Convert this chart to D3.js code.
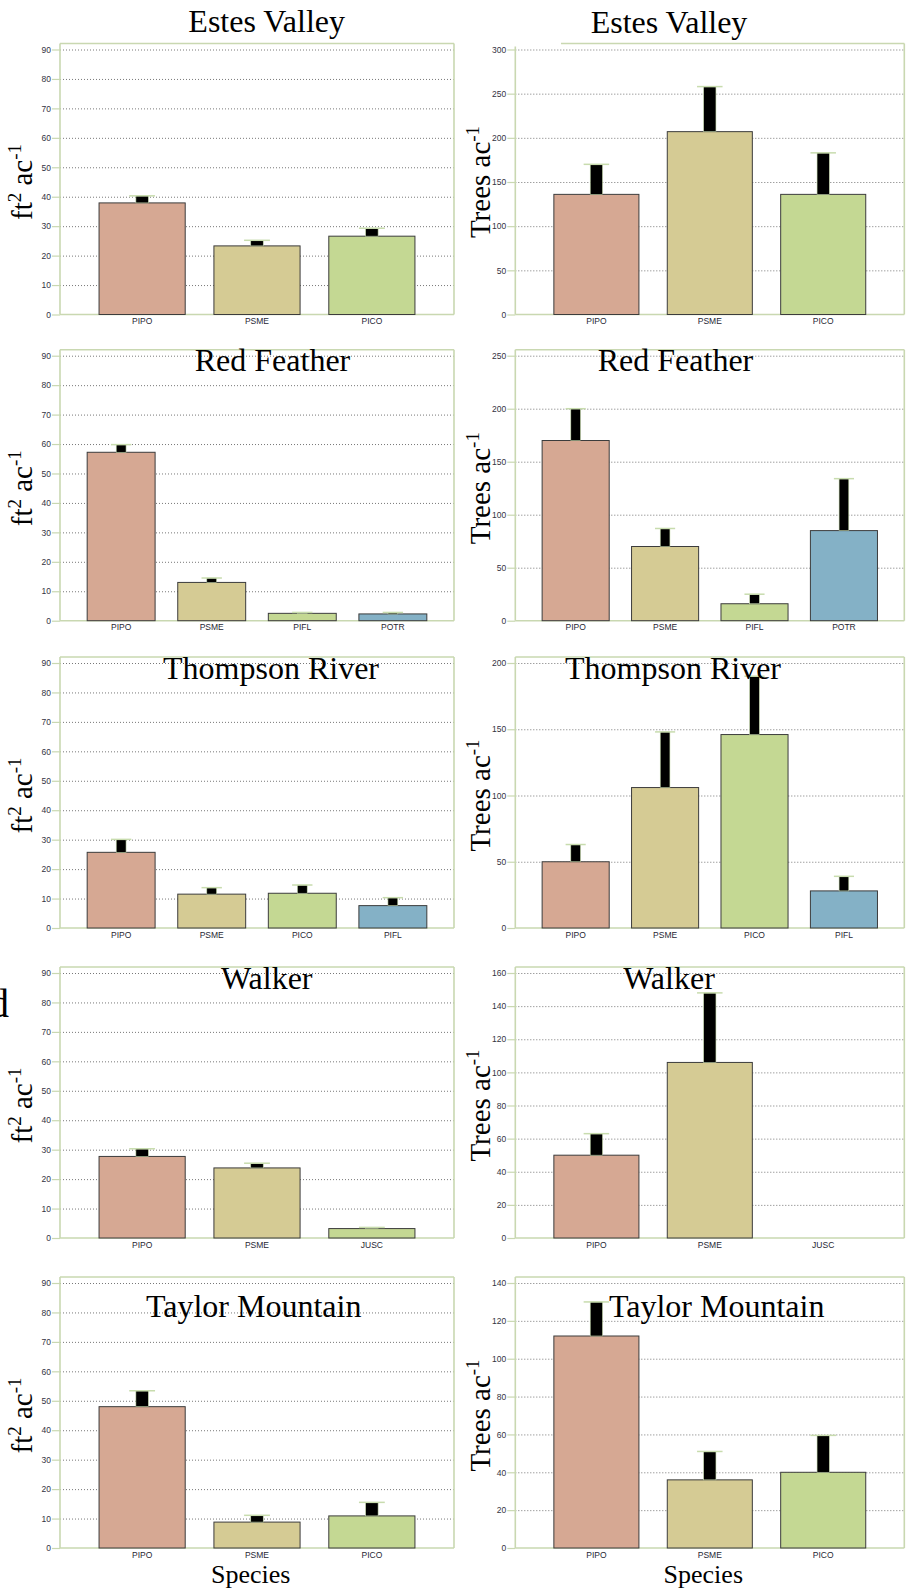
<!DOCTYPE html>
<html>
<head>
<meta charset="utf-8">
<script src="https://cdn.jsdelivr.net/npm/d3@7"></script>
<style>
body { margin: 0; background: #fff; }
svg { display: block; }
</style>
</head>
<body>
<div id="chart"></div>
<script>
// data: means and standard errors per site
var sites = ["Estes Valley", "Red Feather", "Thompson River", "Walker", "Taylor Mountain"];
var species = [
  ["PIPO", "PSME", "PICO"],
  ["PIPO", "PSME", "PIFL", "POTR"],
  ["PIPO", "PSME", "PICO", "PIFL"],
  ["PIPO", "PSME", "JUSC"],
  ["PIPO", "PSME", "PICO"]
];
var basalArea   = [[37.9, 23.3, 26.6], [57.2, 13.0, 2.5, 2.3], [25.7, 11.5, 11.8, 7.6], [27.7, 23.8, 3.2], [48.0, 8.8, 10.9]];
var basalAreaSE = [[2.4, 1.9, 2.7], [2.6, 1.5, 0.3, 0.5], [4.4, 2.2, 2.8, 2.7], [2.6, 1.6, 0.4], [5.4, 2.3, 4.6]];
var density     = [[136, 207, 136], [170, 70, 16, 85], [50, 106, 146, 28], [50, 106, 0], [112, 36, 40]];
var densitySE   = [[34, 51, 47], [30, 17, 9, 49], [13, 42, 44, 11], [13, 42, 0], [18, 15, 19.5]];
var basalTicks   = [d3.range(0, 91, 10), d3.range(0, 91, 10), d3.range(0, 91, 10), d3.range(0, 91, 10), d3.range(0, 91, 10)];
var densityTicks = [d3.range(0, 301, 50), d3.range(0, 251, 50), d3.range(0, 201, 50), d3.range(0, 161, 20), d3.range(0, 141, 20)];

// layout
var rowTop = [49.5, 355.7, 663, 973, 1283],
    plotH = 265;
var colX = [[60, 454], [515.3, 904.3]];
var titleLeft  = [[266.7, 31.7], [272.5, 370.7], [271, 679.3], [266.7, 989], [253.7, 1316.7]];
var titleRight = [[669, 33.3], [675.5, 370.7], [673, 679.3], [669, 989], [716.7, 1316.7]];
var labelX = [31.7, 490];

var barColors = ["#d6a893", "#d5cb94", "#c4d893", "#84b1c6"];
var FRAME = "#c9d8b1";
var CAP = "#c8dcae";

var svg = d3.select("#chart").append("svg")
    .attr("width", 913)
    .attr("height", 1591);

function drawPanel(row, col, cats, vals, se, ticks, title, titlePos) {
  var x0 = colX[col][0], x1 = colX[col][1];
  var yMax = rowTop[row], y0 = rowTop[row] + plotH;
  var frameTop = yMax - 6;

  var xScale = d3.scaleBand()
    .domain(cats)
    .range([x0, x1])
    .paddingInner(0.25)
    .paddingOuter(cats.length === 3 ? 0.34 : 0.3);

  var yScale = d3.scaleLinear()
    .domain([0, d3.max(ticks)])
    .range([y0, yMax]);

  var g = svg.append("g");

  // dotted grid
  var grid = g.append("g")
    .attr("transform", "translate(" + x0 + ",0)")
    .call(d3.axisLeft(yScale)
      .tickValues(ticks.filter(function(t) { return t > 0; }))
      .tickSize(-(x1 - x0))
      .tickFormat(""));
  grid.select(".domain").remove();
  grid.selectAll("line")
    .attr("stroke", "#555")
    .attr("stroke-width", 0.8)
    .attr("stroke-dasharray", "1,2");

  // frame (the top edge of the first right panel is cut short in the original)
  var odd = (row === 0 && col === 1);
  var frame = g.append("g")
    .attr("stroke", FRAME)
    .attr("stroke-width", 1.6);
  frame.append("line").attr("x1", x0).attr("x2", x0).attr("y1", odd ? frameTop + 3 : frameTop).attr("y2", y0);
  frame.append("line").attr("x1", x1).attr("x2", x1).attr("y1", frameTop).attr("y2", y0);
  frame.append("line").attr("x1", odd ? 561 : x0).attr("x2", x1).attr("y1", frameTop).attr("y2", frameTop);
  frame.append("line").attr("x1", x0).attr("x2", x1).attr("y1", y0).attr("y2", y0);

  // y axis
  var yAxis = g.append("g")
    .attr("transform", "translate(" + x0 + ",0)")
    .call(d3.axisLeft(yScale)
      .tickValues(ticks)
      .tickSize(8)
      .tickPadding(1));
  yAxis.select(".domain").remove();
  yAxis.selectAll("line").attr("stroke", FRAME).attr("stroke-width", 1.2);
  yAxis.selectAll("text")
    .attr("fill", "#33333f")
    .style("font-family", "'Liberation Sans', Arial, sans-serif")
    .style("font-size", "8.5px");

  // x axis labels
  var xAxis = g.append("g")
    .attr("transform", "translate(0," + y0 + ")")
    .call(d3.axisBottom(xScale).tickSize(0).tickPadding(3.5));
  xAxis.select(".domain").remove();
  xAxis.selectAll("text")
    .attr("fill", "#262633")
    .style("font-family", "'Liberation Sans', Arial, sans-serif")
    .style("font-size", "8.5px");

  var data = cats.map(function(c, i) { return {cat: c, val: vals[i], se: se[i], idx: i}; })
    .filter(function(d) { return d.val > 0; });
  var bw = xScale.bandwidth();

  // bars
  g.selectAll(".bars")
    .data(data)
    .enter()
    .append("rect")
    .attr("class", "bars")
    .attr("x", function(d) { return xScale(d.cat); })
    .attr("y", function(d) { return yScale(d.val); })
    .attr("width", bw)
    .attr("height", function(d) { return y0 - yScale(d.val); })
    .attr("fill", function(d) { return barColors[d.idx]; })
    .attr("stroke", "#3c3c3c")
    .attr("stroke-width", 1);

  // error bars (upper only)
  var errW = bw * 0.145, capW = bw * 0.3;
  g.selectAll(".err")
    .data(data)
    .enter()
    .append("rect")
    .attr("class", "err")
    .attr("x", function(d) { return xScale(d.cat) + bw / 2 - errW / 2; })
    .attr("y", function(d) { return yScale(d.val + d.se); })
    .attr("width", errW)
    .attr("height", function(d) { return yScale(d.val) - yScale(d.val + d.se); })
    .attr("fill", "#000")
    .attr("stroke", CAP)
    .attr("stroke-width", 0.6);

  g.selectAll(".cap")
    .data(data)
    .enter()
    .append("line")
    .attr("class", "cap")
    .attr("x1", function(d) { return xScale(d.cat) + bw / 2 - capW / 2; })
    .attr("x2", function(d) { return xScale(d.cat) + bw / 2 + capW / 2; })
    .attr("y1", function(d) { return yScale(d.val + d.se); })
    .attr("y2", function(d) { return yScale(d.val + d.se); })
    .attr("stroke", CAP)
    .attr("stroke-width", 1.5);

  // title
  svg.append("text")
    .attr("x", titlePos[0])
    .attr("y", titlePos[1])
    .attr("text-anchor", "middle")
    .style("font-family", "'Liberation Serif', 'Times New Roman', serif")
    .style("font-size", "32px")
    .attr("fill", "#000")
    .text(title);

  // y label
  var lab = svg.append("text")
    .attr("transform", "translate(" + labelX[col] + "," + (yMax + y0) / 2 + ") rotate(-90)")
    .attr("text-anchor", "middle")
    .style("font-family", "'Liberation Serif', 'Times New Roman', serif")
    .style("font-size", "29px")
    .attr("fill", "#000");
  if (col === 0) {
    lab.append("tspan").text("ft");
    lab.append("tspan").attr("dy", -11).style("font-size", "19px").text("2");
    lab.append("tspan").attr("dy", 11).text(" ac");
    lab.append("tspan").attr("dy", -11).style("font-size", "19px").text("-1");
  } else {
    lab.append("tspan").text("Trees ac");
    lab.append("tspan").attr("dy", -11).style("font-size", "19px").text("-1");
  }
}

sites.forEach(function(site, i) {
  drawPanel(i, 0, species[i], basalArea[i], basalAreaSE[i], basalTicks[i], site, titleLeft[i]);
  drawPanel(i, 1, species[i], density[i], densitySE[i], densityTicks[i], site, titleRight[i]);
});

// x titles under bottom row
[[250.7, 1583], [703.3, 1583]].forEach(function(p) {
  svg.append("text")
    .attr("x", p[0])
    .attr("y", p[1])
    .attr("text-anchor", "middle")
    .style("font-family", "'Liberation Serif', 'Times New Roman', serif")
    .style("font-size", "26px")
    .text("Species");
});

// letter clipped at the left page edge, as in the source figure
svg.append("text")
  .attr("x", 9)
  .attr("y", 1017)
  .attr("text-anchor", "end")
  .style("font-family", "'Liberation Serif', 'Times New Roman', serif")
  .style("font-size", "40px")
  .text("d");
</script>
</body>
</html>
